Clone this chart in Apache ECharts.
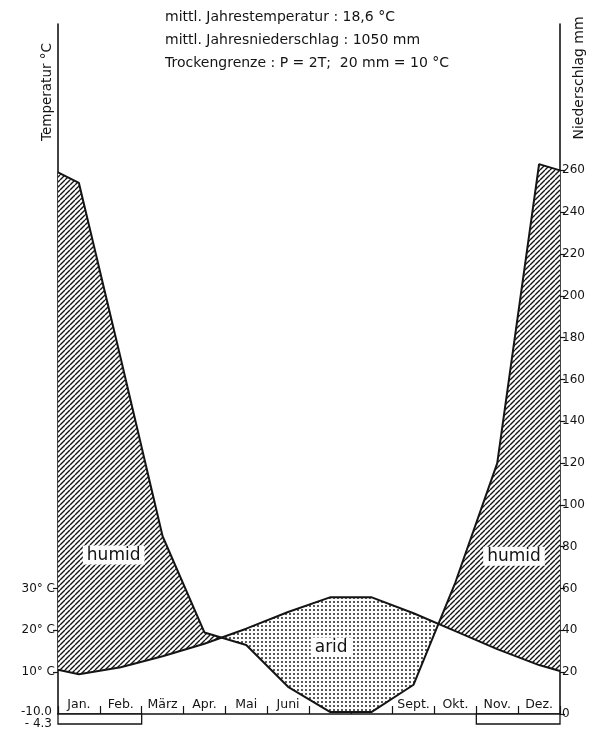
<!DOCTYPE html>
<html>
<head>
<meta charset="utf-8">
<script src="https://cdn.jsdelivr.net/npm/echarts@6/dist/echarts.min.js"></script>
<style>
html,body{margin:0;padding:0;background:#fff;}
#c{width:593px;height:730px;}
</style>
</head>
<body>
<div id="c"></div>
<script>
// ---- data ----
const months = ['Jan.','Feb.','März','Apr.','Mai','Juni','Juli','Aug.','Sept.','Okt.','Nov.','Dez.'];
const monthLabels = ['Jan.','Feb.','März','Apr.','Mai','Juni','','','Sept.','Okt.','Nov.','Dez.'];
const precipitation = [254, 170, 85, 39, 33, 13, 1, 1, 14, 63, 120, 263];          // mm
const temperature   = [9.5, 11.2, 13.8, 16.8, 20.4, 24.4, 27.9, 27.9, 24.1, 19.8, 15.5, 11.7]; // °C
const precipEdges = [259, 260];   // values read where the curve meets the left / right axis
const tempEdges   = [10.6, 10.3];
const frostMonths = ['Jan.','Feb.','Nov.','Dez.'];
const tempTicks   = [10, 20, 30];
const precipTicks = [0, 20, 40, 60, 80, 100, 120, 140, 160, 180, 200, 220, 240, 260];
const extremeLabels = ['-10.0', '- 4.3'];
const headerLines = [
  'mittl. Jahrestemperatur : 18,6 °C',
  'mittl. Jahresniederschlag : 1050 mm',
  'Trockengrenze : P = 2T;  20 mm = 10 °C'
];
const areaLabels = ['humid', 'humid', 'arid'];

// ---- helpers ----
const FONT = "'DejaVu Sans', 'Liberation Sans', sans-serif";
const INK = '#141414';

function hatchPattern() {
  const s = 5, c = document.createElement('canvas');
  c.width = s; c.height = s;
  const g = c.getContext('2d');
  g.fillStyle = '#fff'; g.fillRect(0, 0, s, s);
  g.strokeStyle = INK; g.lineWidth = 1.4;
  g.beginPath();
  for (let k = -1; k <= 1; k++) { g.moveTo(k * s, s); g.lineTo(k * s + s, 0); }
  g.stroke();
  return c;
}
function dotPattern() {
  const s = 4, c = document.createElement('canvas');
  c.width = s; c.height = s;
  const g = c.getContext('2d');
  g.fillStyle = '#fff'; g.fillRect(0, 0, s, s);
  g.fillStyle = '#222';
  g.beginPath(); g.arc(2, 2, 1.0, 0, Math.PI * 2); g.fill();
  return c;
}
const HATCH = { image: hatchPattern(), repeat: 'repeat' };
const DOTS  = { image: dotPattern(), repeat: 'repeat' };

const xPos = [0].concat(months.map((m, i) => i + 0.5), [12]);
const pVals = [precipEdges[0]].concat(precipitation, [precipEdges[1]]);
const tVals = [tempEdges[0]].concat(temperature, [tempEdges[1]]);
const precipData = xPos.map((x, i) => [x, pVals[i]]);
const tempData = xPos.map((x, i) => [x, tVals[i]]);

// frost ranges (month index runs)
const frostIdx = frostMonths.map(m => months.indexOf(m)).sort((a, b) => a - b);
const frostRanges = [];
frostIdx.forEach(i => {
  const last = frostRanges[frostRanges.length - 1];
  if (last && last[1] === i) last[1] = i + 1; else frostRanges.push([i, i + 1]);
});

// Walter-Lieth fill polygons: humid where P > 2T, arid where P < 2T
function renderFill(params, api) {
  const pts = [];
  for (let i = 0; i < xPos.length; i++) {
    const p = pVals[i], d = 2 * tVals[i];
    pts.push({ x: xPos[i], p: p, d: d });
    if (i < xPos.length - 1) {
      const p1 = pVals[i + 1], d1 = 2 * tVals[i + 1];
      const a = p - d, b = p1 - d1;
      if (a * b < 0) {
        const f = a / (a - b);
        const xc = xPos[i] + f * (xPos[i + 1] - xPos[i]);
        const pc = p + f * (p1 - p);
        pts.push({ x: xc, p: pc, d: pc });
      }
    }
  }
  const children = [];
  function runs(sign) {
    const out = []; let cur = [];
    pts.forEach(pt => {
      const s = pt.p - pt.d;
      if (s * sign >= 0) { cur.push(pt); }
      else { if (cur.length > 1) out.push(cur); cur = []; }
      if (s === 0 && cur.length > 1) { out.push(cur); cur = [pt]; }
    });
    if (cur.length > 1) out.push(cur);
    return out.filter(r => r.some(pt => (pt.p - pt.d) * sign > 0));
  }
  runs(1).forEach(r => {
    const poly = r.map(pt => api.coord([pt.x, pt.p])).concat(r.slice().reverse().map(pt => api.coord([pt.x, pt.d])));
    children.push({ type: 'polygon', shape: { points: poly }, style: { fill: HATCH, stroke: null } });
  });
  runs(-1).forEach(r => {
    const poly = r.map(pt => api.coord([pt.x, pt.d])).concat(r.slice().reverse().map(pt => api.coord([pt.x, pt.p])));
    children.push({ type: 'polygon', shape: { points: poly }, style: { fill: DOTS, stroke: null } });
  });
  return { type: 'group', children: children };
}

function renderFrost(params, api) {
  const a = api.coord([api.value(0), 0]);
  const b = api.coord([api.value(1), 0]);
  return {
    type: 'rect',
    shape: { x: a[0], y: a[1], width: b[0] - a[0], height: 10 },
    style: { fill: '#fff', stroke: INK, lineWidth: 1.3 }
  };
}

const chart = echarts.init(document.getElementById('c'), null, { renderer: 'canvas' });
const axisLineStyle = { color: INK, width: 1.6 };

chart.setOption({
  backgroundColor: '#fff',
  animation: false,
  grid: { left: 58, right: 33, top: 24, bottom: 16, containLabel: false },
  xAxis: [
    { type: 'value', min: 0, max: 12, show: false },
    {
      type: 'category', data: months, boundaryGap: true, position: 'bottom',
      axisLine: { show: true, lineStyle: axisLineStyle },
      axisTick: { show: true, inside: true, length: 8, lineStyle: { color: INK, width: 1.2 } },
      axisLabel: { inside: true, margin: 3, interval: 0, color: INK, fontSize: 12.5, fontFamily: FONT,
        formatter: (v, i) => monthLabels[i] },
      splitLine: { show: false }
    }
  ],
  yAxis: [
    {
      type: 'value', min: 0, max: 165, position: 'left',
      axisLine: { show: true, lineStyle: axisLineStyle },
      splitLine: { show: false },
      axisTick: { show: true, customValues: tempTicks, length: 5, lineStyle: { color: INK, width: 1.2 } },
      axisLabel: { show: true, customValues: tempTicks, margin: 3, color: INK, fontSize: 12, fontFamily: FONT,
        formatter: v => v + '° C' }
    },
    {
      type: 'value', min: 0, max: 330, position: 'right',
      axisLine: { show: true, lineStyle: axisLineStyle },
      splitLine: { show: false },
      axisTick: { show: true, customValues: precipTicks, length: 5, lineStyle: { color: INK, width: 1.2 } },
      axisLabel: { show: true, customValues: precipTicks, margin: 2, color: INK, fontSize: 12, fontFamily: FONT }
    }
  ],
  series: [
    {
      type: 'custom', name: 'fill', xAxisIndex: 0, yAxisIndex: 1, z: 1,
      data: [0], renderItem: renderFill, silent: true
    },
    {
      type: 'custom', name: 'Frost', xAxisIndex: 0, yAxisIndex: 1, z: 4, clip: false,
      data: frostRanges, renderItem: renderFrost, silent: true
    },
    {
      type: 'line', name: 'Niederschlag', xAxisIndex: 0, yAxisIndex: 1, z: 3,
      data: precipData, showSymbol: false, symbol: 'none',
      lineStyle: { color: INK, width: 2 },
      markPoint: {
        symbol: 'rect', symbolSize: 1, itemStyle: { color: 'rgba(0,0,0,0)' },
        label: {
          show: true, position: 'inside', formatter: p => p.name,
          backgroundColor: '#fff', padding: [1, 4, 1, 4],
          color: INK, fontSize: 17, fontFamily: FONT
        },
        data: [
          { name: areaLabels[0], coord: [1.33, 76] },
          { name: areaLabels[1], coord: [10.9, 75.5] },
          { name: areaLabels[2], coord: [6.53, 32] }
        ]
      }
    },
    {
      type: 'line', name: 'Temperatur', xAxisIndex: 0, yAxisIndex: 0, z: 3,
      data: tempData, showSymbol: false, symbol: 'none',
      lineStyle: { color: INK, width: 2 }
    }
  ],
  graphic: [
    { type: 'text', left: 165, top: 10, style: { text: headerLines[0], font: '14px ' + FONT, fill: INK } },
    { type: 'text', left: 165, top: 33, style: { text: headerLines[1], font: '14px ' + FONT, fill: INK } },
    { type: 'text', left: 165, top: 56, style: { text: headerLines[2], font: '14px ' + FONT, fill: INK } },
    { type: 'text', x: 47, y: 92, rotation: Math.PI / 2,
      style: { text: 'Temperatur °C', font: '13.5px ' + FONT, fill: INK, align: 'center', verticalAlign: 'middle' } },
    { type: 'text', x: 579, y: 78, rotation: Math.PI / 2,
      style: { text: 'Niederschlag mm', font: '14px ' + FONT, fill: INK, align: 'center', verticalAlign: 'middle' } },
    { type: 'text', x: 52, y: 712,
      style: { text: extremeLabels[0], font: '12px ' + FONT, fill: INK, align: 'right', verticalAlign: 'middle' } },
    { type: 'text', x: 52, y: 724,
      style: { text: extremeLabels[1], font: '12px ' + FONT, fill: INK, align: 'right', verticalAlign: 'middle' } }
  ]
});
</script>
</body>
</html>
